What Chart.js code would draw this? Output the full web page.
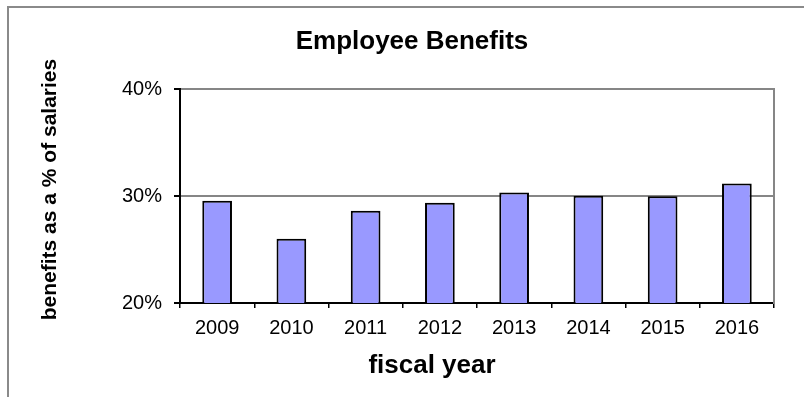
<!DOCTYPE html>
<html>
<head>
<meta charset="utf-8">
<script src="https://cdn.jsdelivr.net/npm/chart.js@4.4.1/dist/chart.umd.min.js"></script>
<style>
html,body{margin:0;padding:0;background:#fff;overflow:hidden;width:804px;height:397px;}
#wrap{position:relative;width:804px;height:397px;overflow:hidden;}
#frame{position:absolute;left:7px;top:6px;width:900px;height:500px;border-left:2px solid #8a8a8a;border-top:2px solid #8a8a8a;}
canvas{position:absolute;left:0;top:0;}
</style>
</head>
<body>
<div id="wrap"><div id="frame"></div><canvas id="c" width="804" height="397"></canvas></div>
<script>
const categories = ['2009', '2010', '2011', '2012', '2013', '2014', '2015', '2016'];
const benefitsPct = [29.56, 26.0, 28.63, 29.37, 30.33, 30.03, 29.98, 31.17];
const yTickValues = [20, 30, 40];
const chartTitle = 'Employee Benefits';
const xTitle = 'fiscal year';
const yTitle = 'benefits as a % of salaries';

const FONT = '"Liberation Sans", Arial, sans-serif';
Chart.defaults.font.family = FONT;
Chart.defaults.color = '#000';

const axisTitlesPlugin = {
  id: 'axisTitles',
  afterDraw(chart) {
    const c = chart.ctx;
    c.save();
    c.fillStyle = '#000';
    c.textAlign = 'center';
    c.textBaseline = 'alphabetic';
    c.font = 'bold 26px ' + FONT;
    c.fillText(xTitle, 432, 373);
    c.translate(56.4, 189.5);
    c.rotate(-Math.PI / 2);
    c.font = 'bold 21px ' + FONT;
    c.fillText(yTitle, 0, 0);
    c.restore();
  }
};

new Chart(document.getElementById('c'), {
  type: 'bar',
  data: {
    labels: categories,
    datasets: [{
      data: benefitsPct,
      backgroundColor: '#9999FF',
      borderColor: '#000',
      borderWidth: 2,
      barPercentage: 0.4,
      categoryPercentage: 1
    }]
  },
  options: {
    responsive: false,
    animation: false,
    devicePixelRatio: 1,
    layout: { padding: { left: 50, right: 30, top: 0, bottom: 0 } },
    plugins: {
      legend: { display: false },
      tooltip: { enabled: false },
      title: {
        display: true,
        text: chartTitle,
        color: '#000',
        font: { size: 26, weight: 'bold', family: FONT },
        padding: { top: 26.1, bottom: 31.7 }
      }
    },
    scales: {
      x: {
        grid: { display: true, drawOnChartArea: false, drawTicks: true, tickLength: 5, color: '#000', lineWidth: 1.5, offset: true },
        border: { display: true, color: '#000', width: 2 },
        ticks: { font: { size: 20, family: FONT }, color: '#000', padding: 8, maxRotation: 0 },
        afterFit(s) { s.height = 94; }
      },
      y: {
        min: yTickValues[0],
        max: yTickValues[yTickValues.length - 1],
        afterBuildTicks(s) { s.ticks = yTickValues.map(v => ({ value: v })); },
        ticks: { callback: v => v + '%', font: { size: 20, family: FONT }, color: '#000', padding: 12 },
        grid: {
          color: ctx => (ctx.tick && ctx.tick.value === yTickValues[0]) ? '#000' : '#868686',
          lineWidth: 2, tickLength: 6, tickColor: '#000'
        },
        border: { display: true, color: '#000', width: 2 },
        afterFit(s) { s.width = 130; }
      },
      y2: {
        position: 'right',
        display: true,
        ticks: { display: false },
        grid: { display: false, drawTicks: false },
        border: { display: true, color: '#868686', width: 2 },
        afterFit(s) { s.width = 0; }
      }
    }
  },
  plugins: [axisTitlesPlugin]
});
</script>
</body>
</html>
